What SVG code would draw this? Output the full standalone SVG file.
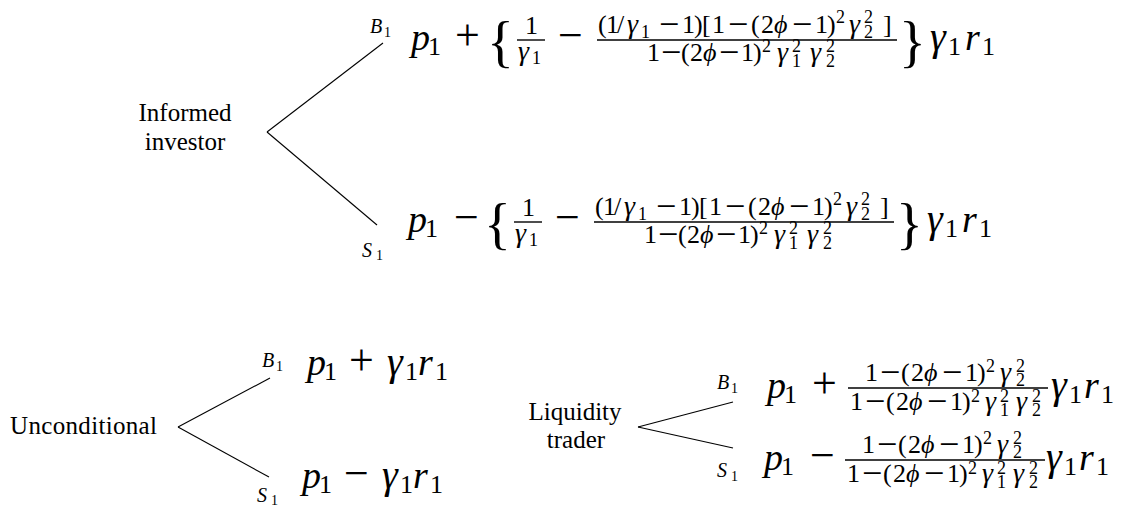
<svg xmlns="http://www.w3.org/2000/svg" width="1123" height="508" viewBox="0 0 1123 508" font-family="'Liberation Serif', 'Times New Roman', serif">
<style>
text, tspan{fill:#000;font-family:'Liberation Serif','Times New Roman',serif}
.mi{font-style:italic;font-size:38px}
.mg{font-style:italic;font-size:40px}
.si{font-style:italic;font-size:26px}
.sg{font-style:italic;font-size:28px}
.sn{font-size:26px}
.ssn{font-size:18px}
.bop{font-size:44px}
.sop{font-size:36px}
.br{font-size:56px}
.lbl{font-size:25px}
.bl{font-style:italic;font-size:20px}
.bl1{font-size:14px}
.ln{stroke:#000;stroke-width:1.1;fill:none}
.bar{stroke:#000;stroke-width:1.4}
</style>
<rect width="1123" height="508" fill="#fff"/>

<g id="connectors">
<line class="ln" x1="267" y1="132" x2="383" y2="43"/>
<line class="ln" x1="267" y1="132" x2="377" y2="225"/>
<line class="ln" x1="178" y1="427" x2="270" y2="378"/>
<line class="ln" x1="178" y1="427" x2="269" y2="477"/>
<line class="ln" x1="638" y1="427" x2="733" y2="402"/>
<line class="ln" x1="638" y1="427" x2="733" y2="448"/>
</g>

<g id="informed-investor">
<text class="lbl" x="185" y="121" text-anchor="middle">Informed</text>
<text class="lbl" x="185" y="150" text-anchor="middle">investor</text>
</g>

<g id="informed-buy">
<text><tspan class="bl" x="370" y="33">B</tspan><tspan class="bl1" x="384" y="37">1</tspan></text>
<line class="bar" x1="517" y1="40" x2="545" y2="40"/>
<line class="bar" x1="597" y1="40" x2="897" y2="40"/>
<text><tspan class="mi" x="411" y="50">p</tspan><tspan class="sn" x="428" y="55">1</tspan><tspan class="bop" x="455" y="50">+</tspan><tspan class="br" x="487" y="61">{</tspan><tspan class="sn" x="525" y="34">1</tspan><tspan class="sg" x="518" y="60">γ</tspan><tspan class="ssn" x="532" y="64">1</tspan><tspan class="bop" x="558" y="50">−</tspan><tspan class="sn" x="598" y="33">(</tspan><tspan class="sn" x="606" y="33">1</tspan><tspan class="sn" x="617" y="33">/</tspan><tspan class="sg" x="627" y="33">γ</tspan><tspan class="ssn" x="641" y="38">1</tspan><tspan class="sop" x="659" y="36">−</tspan><tspan class="sn" x="682" y="33">1</tspan><tspan class="sn" x="694" y="33">)</tspan><tspan class="sn" x="702" y="33">[</tspan><tspan class="sn" x="712" y="33">1</tspan><tspan class="sop" x="728" y="36">−</tspan><tspan class="sn" x="751" y="33">(</tspan><tspan class="sn" x="761" y="33">2</tspan><tspan class="si" x="774" y="33">ϕ</tspan><tspan class="sop" x="792" y="36">−</tspan><tspan class="sn" x="815" y="33">1</tspan><tspan class="sn" x="827" y="33">)</tspan><tspan class="ssn" x="836" y="23">2</tspan><tspan class="sg" x="849" y="33">γ</tspan><tspan class="ssn" x="864" y="23">2</tspan><tspan class="ssn" x="864" y="38">2</tspan><tspan class="sn" x="883" y="33">]</tspan><tspan class="sn" x="647" y="61">1</tspan><tspan class="sop" x="661" y="64">−</tspan><tspan class="sn" x="681" y="61">(</tspan><tspan class="sn" x="690" y="61">2</tspan><tspan class="si" x="703" y="61">ϕ</tspan><tspan class="sop" x="719" y="64">−</tspan><tspan class="sn" x="741" y="61">1</tspan><tspan class="sn" x="753" y="61">)</tspan><tspan class="ssn" x="762" y="52">2</tspan><tspan class="sg" x="777" y="61">γ</tspan><tspan class="ssn" x="792" y="52">2</tspan><tspan class="ssn" x="792" y="67">1</tspan><tspan class="sg" x="810" y="61">γ</tspan><tspan class="ssn" x="826" y="52">2</tspan><tspan class="ssn" x="826" y="67">2</tspan><tspan class="br" x="899" y="61">}</tspan><tspan class="mg" x="930" y="50">γ</tspan><tspan class="sn" x="948" y="55">1</tspan><tspan class="mi" x="965" y="50">r</tspan><tspan class="sn" x="982" y="55">1</tspan></text>
</g>

<g id="informed-sell">
<text><tspan class="bl" x="362" y="257">S</tspan><tspan class="bl1" x="376" y="260">1</tspan></text>
<g transform="translate(-3,182)">
<line class="bar" x1="517" y1="40" x2="545" y2="40"/>
<line class="bar" x1="597" y1="40" x2="897" y2="40"/>
<text><tspan class="mi" x="411" y="50">p</tspan><tspan class="sn" x="428" y="55">1</tspan><tspan class="bop" x="457" y="50">−</tspan><tspan class="br" x="487" y="61">{</tspan><tspan class="sn" x="525" y="34">1</tspan><tspan class="sg" x="518" y="60">γ</tspan><tspan class="ssn" x="532" y="64">1</tspan><tspan class="bop" x="558" y="50">−</tspan><tspan class="sn" x="598" y="33">(</tspan><tspan class="sn" x="606" y="33">1</tspan><tspan class="sn" x="617" y="33">/</tspan><tspan class="sg" x="627" y="33">γ</tspan><tspan class="ssn" x="641" y="38">1</tspan><tspan class="sop" x="659" y="36">−</tspan><tspan class="sn" x="682" y="33">1</tspan><tspan class="sn" x="694" y="33">)</tspan><tspan class="sn" x="702" y="33">[</tspan><tspan class="sn" x="712" y="33">1</tspan><tspan class="sop" x="728" y="36">−</tspan><tspan class="sn" x="751" y="33">(</tspan><tspan class="sn" x="761" y="33">2</tspan><tspan class="si" x="774" y="33">ϕ</tspan><tspan class="sop" x="792" y="36">−</tspan><tspan class="sn" x="815" y="33">1</tspan><tspan class="sn" x="827" y="33">)</tspan><tspan class="ssn" x="836" y="23">2</tspan><tspan class="sg" x="849" y="33">γ</tspan><tspan class="ssn" x="864" y="23">2</tspan><tspan class="ssn" x="864" y="38">2</tspan><tspan class="sn" x="883" y="33">]</tspan><tspan class="sn" x="647" y="61">1</tspan><tspan class="sop" x="661" y="64">−</tspan><tspan class="sn" x="681" y="61">(</tspan><tspan class="sn" x="690" y="61">2</tspan><tspan class="si" x="703" y="61">ϕ</tspan><tspan class="sop" x="719" y="64">−</tspan><tspan class="sn" x="741" y="61">1</tspan><tspan class="sn" x="753" y="61">)</tspan><tspan class="ssn" x="762" y="52">2</tspan><tspan class="sg" x="777" y="61">γ</tspan><tspan class="ssn" x="792" y="52">2</tspan><tspan class="ssn" x="792" y="67">1</tspan><tspan class="sg" x="810" y="61">γ</tspan><tspan class="ssn" x="826" y="52">2</tspan><tspan class="ssn" x="826" y="67">2</tspan><tspan class="br" x="899" y="61">}</tspan><tspan class="mg" x="930" y="50">γ</tspan><tspan class="sn" x="948" y="55">1</tspan><tspan class="mi" x="965" y="50">r</tspan><tspan class="sn" x="982" y="55">1</tspan></text>
</g>
</g>

<g id="unconditional">
<text class="lbl" x="10" y="434" textLength="147" lengthAdjust="spacing">Unconditional</text>
</g>

<g id="unconditional-buy">
<text><tspan class="bl" x="262" y="367">B</tspan><tspan class="bl1" x="276" y="371">1</tspan></text>
<text><tspan class="mi" x="307" y="375">p</tspan><tspan class="sn" x="324" y="380">1</tspan><tspan class="bop" x="349" y="375">+</tspan><tspan class="mg" x="387" y="375">γ</tspan><tspan class="sn" x="405" y="380">1</tspan><tspan class="mi" x="418" y="375">r</tspan><tspan class="sn" x="435" y="380">1</tspan></text>
</g>

<g id="unconditional-sell">
<text><tspan class="bl" x="257" y="502">S</tspan><tspan class="bl1" x="271" y="505">1</tspan></text>
<text><tspan class="mi" x="302" y="488">p</tspan><tspan class="sn" x="319" y="493">1</tspan><tspan class="bop" x="344" y="488">−</tspan><tspan class="mg" x="382" y="488">γ</tspan><tspan class="sn" x="400" y="493">1</tspan><tspan class="mi" x="413" y="488">r</tspan><tspan class="sn" x="430" y="493">1</tspan></text>
</g>

<g id="liquidity-trader">
<text class="lbl" x="575" y="420" text-anchor="middle">Liquidity</text>
<text class="lbl" x="576" y="448" text-anchor="middle">trader</text>
</g>

<g id="liquidity-buy">
<text><tspan class="bl" x="717" y="389">B</tspan><tspan class="bl1" x="731" y="393">1</tspan></text>
<line class="bar" x1="848" y1="388" x2="1048" y2="388"/>
<text><tspan class="mi" x="767" y="398">p</tspan><tspan class="sn" x="784" y="403">1</tspan><tspan class="bop" x="812" y="398">+</tspan><tspan class="sn" x="865" y="381">1</tspan><tspan class="sop" x="880" y="384">−</tspan><tspan class="sn" x="901" y="381">(</tspan><tspan class="sn" x="911" y="381">2</tspan><tspan class="si" x="924" y="381">ϕ</tspan><tspan class="sop" x="942" y="384">−</tspan><tspan class="sn" x="965" y="381">1</tspan><tspan class="sn" x="977" y="381">)</tspan><tspan class="ssn" x="986" y="372">2</tspan><tspan class="sg" x="1000" y="381">γ</tspan><tspan class="ssn" x="1016" y="372">2</tspan><tspan class="ssn" x="1016" y="386">2</tspan><tspan class="sn" x="850" y="410">1</tspan><tspan class="sop" x="865" y="413">−</tspan><tspan class="sn" x="886" y="410">(</tspan><tspan class="sn" x="896" y="410">2</tspan><tspan class="si" x="909" y="410">ϕ</tspan><tspan class="sop" x="927" y="413">−</tspan><tspan class="sn" x="950" y="410">1</tspan><tspan class="sn" x="962" y="410">)</tspan><tspan class="ssn" x="971" y="402">2</tspan><tspan class="sg" x="985" y="410">γ</tspan><tspan class="ssn" x="1000" y="402">2</tspan><tspan class="ssn" x="1000" y="416">1</tspan><tspan class="sg" x="1016" y="410">γ</tspan><tspan class="ssn" x="1032" y="402">2</tspan><tspan class="ssn" x="1032" y="416">2</tspan><tspan class="mg" x="1051" y="398">γ</tspan><tspan class="sn" x="1069" y="403">1</tspan><tspan class="mi" x="1084" y="398">r</tspan><tspan class="sn" x="1101" y="403">1</tspan></text>
</g>

<g id="liquidity-sell">
<text><tspan class="bl" x="717" y="477">S</tspan><tspan class="bl1" x="731" y="481">1</tspan></text>
<line class="bar" x1="845" y1="460" x2="1045" y2="460"/>
<text><tspan class="mi" x="764" y="470">p</tspan><tspan class="sn" x="781" y="475">1</tspan><tspan class="bop" x="810" y="470">−</tspan><tspan class="sn" x="862" y="453">1</tspan><tspan class="sop" x="877" y="456">−</tspan><tspan class="sn" x="898" y="453">(</tspan><tspan class="sn" x="908" y="453">2</tspan><tspan class="si" x="921" y="453">ϕ</tspan><tspan class="sop" x="939" y="456">−</tspan><tspan class="sn" x="962" y="453">1</tspan><tspan class="sn" x="974" y="453">)</tspan><tspan class="ssn" x="983" y="444">2</tspan><tspan class="sg" x="997" y="453">γ</tspan><tspan class="ssn" x="1013" y="444">2</tspan><tspan class="ssn" x="1013" y="458">2</tspan><tspan class="sn" x="847" y="482">1</tspan><tspan class="sop" x="862" y="485">−</tspan><tspan class="sn" x="883" y="482">(</tspan><tspan class="sn" x="893" y="482">2</tspan><tspan class="si" x="906" y="482">ϕ</tspan><tspan class="sop" x="924" y="485">−</tspan><tspan class="sn" x="947" y="482">1</tspan><tspan class="sn" x="959" y="482">)</tspan><tspan class="ssn" x="968" y="474">2</tspan><tspan class="sg" x="982" y="482">γ</tspan><tspan class="ssn" x="997" y="474">2</tspan><tspan class="ssn" x="997" y="488">1</tspan><tspan class="sg" x="1013" y="482">γ</tspan><tspan class="ssn" x="1029" y="474">2</tspan><tspan class="ssn" x="1029" y="488">2</tspan><tspan class="mg" x="1046" y="470">γ</tspan><tspan class="sn" x="1064" y="475">1</tspan><tspan class="mi" x="1079" y="470">r</tspan><tspan class="sn" x="1096" y="475">1</tspan></text>
</g>
</svg>
